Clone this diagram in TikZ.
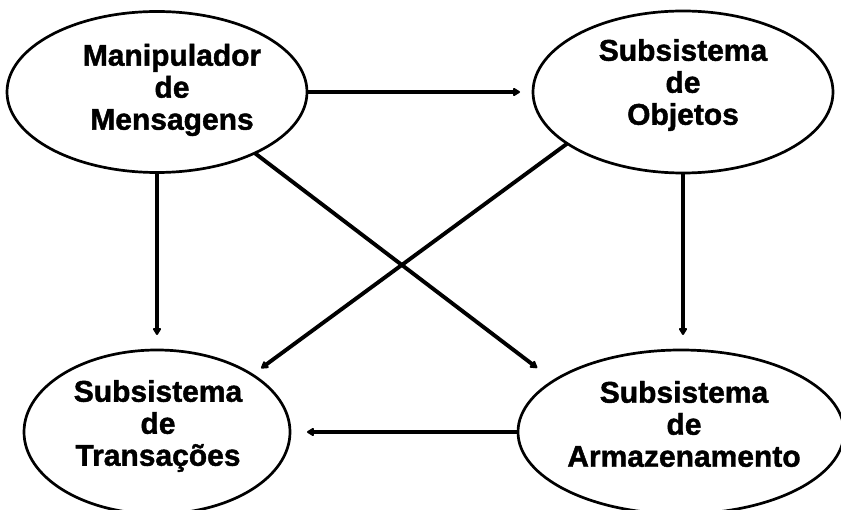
\documentclass[tikz,border=0pt]{standalone}
\usepackage{fontspec}
\setmainfont{Liberation Sans}[BoldFeatures={FakeBold=1.4}]
\usetikzlibrary{shapes.geometric,arrows.meta}
\begin{document}
\begin{tikzpicture}[x=1pt,y=-1pt,
  blob/.style={ellipse,draw,line width=2.7pt,inner sep=0pt,outer sep=0pt},
  lbl/.style={align=center,inner sep=0pt,font=\fontsize{30}{32}\selectfont\bfseries},
  flow/.style={line width=3.3pt,-{Triangle[length=8pt,width=9pt,round]}},
  cross/.style={flow,line width=3.9pt},
]
\useasboundingbox (0,0) rectangle (841,510);

% subsystems
\node[blob,minimum width=300pt,minimum height=161pt] (msg) at (157,92) {};
\node[blob,minimum width=300pt,minimum height=162pt] (obj) at (683,92) {};
\node[blob,minimum width=266pt,minimum height=164pt] (trn) at (157,432) {};
\node[blob,minimum width=326pt,minimum height=164pt] (arm) at (681,432) {};

% labels
\node[lbl] (msgT) at (172,90) {Manipulador\\de\\Mensagens};
\node[lbl] (objT) at (683,85) {Subsistema\\de\\Objetos};
\node[lbl] (trnT) at (158,426) {Subsistema\\de\\Transações};
\node[lbl] (armT) at (684,424) {Subsistema\\de\\Armazenamento};

% connections
\draw[flow,shorten >=13pt] (msg.east) -- (msg.east -| obj.west);
\draw[flow,shorten >=15pt] (msg.south) -- (msg.south |- trn.north);
\draw[flow,shorten >=15pt] (obj.south) -- (obj.south |- arm.north);
\draw[flow,shorten >=17pt] (arm.west) -- (arm.west -| trn.east);
\draw[cross,shorten >=21pt] (msg.-32.2) -- (arm.158.3);
\draw[cross,shorten >=11pt] (obj.-156.7) -- (trn.31.9);
\end{tikzpicture}
\end{document}
